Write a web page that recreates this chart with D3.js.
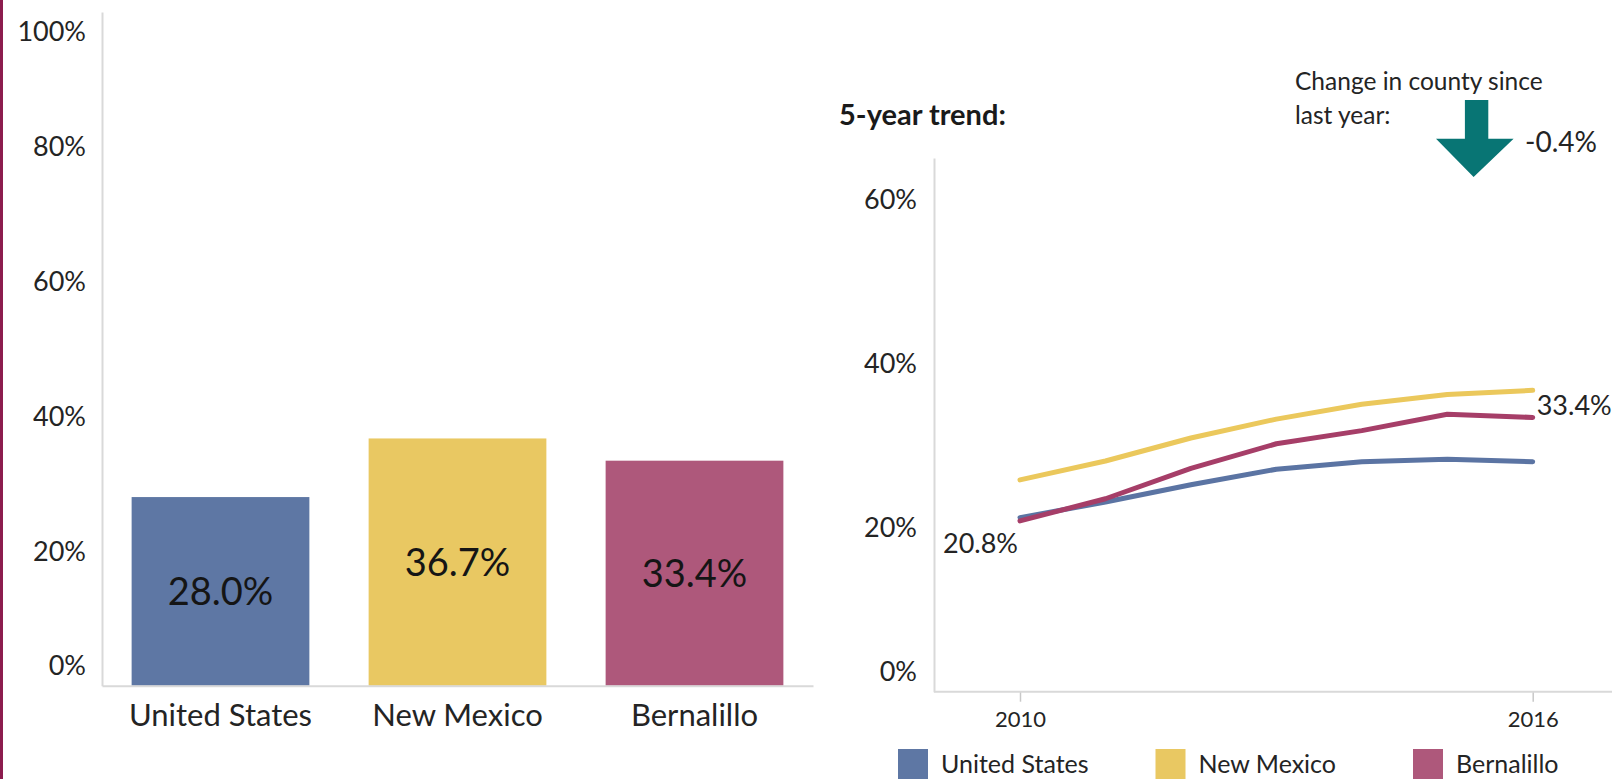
<!DOCTYPE html>
<html>
<head>
<meta charset="utf-8">
<script src="https://cdn.jsdelivr.net/npm/d3@7"></script>
<style>
  html, body { margin: 0; padding: 0; background: #fff; overflow: hidden; }
  svg { display: block; font-family: Lato, "Open Sans", sans-serif; }
</style>
</head>
<body>
<svg id="chart" width="1612" height="779"></svg>
<script>
// ---------- data ----------
const categories = ["United States", "New Mexico", "Bernalillo"];
const barValues = [28.0, 36.7, 33.4];
const colors = ["#5e77a4", "#e9c862", "#ae587b"];
const lineColors = ["#5b74a3", "#ebc85c", "#a63e68"];
const barTicks = [0, 20, 40, 60, 80, 100];

const years = [2010, 2011, 2012, 2013, 2014, 2015, 2016];
const usSeries = [21.2, 23.1, 25.2, 27.1, 28.0, 28.3, 28.0];
const nmSeries = [25.8, 28.1, 30.9, 33.2, 35.0, 36.2, 36.7];
const bernSeries = [20.8, 23.5, 27.2, 30.2, 31.8, 33.8, 33.4];
const lineTicks = [0, 20, 40, 60];
const yearTicks = [2010, 2016];
const changeValue = -0.4;
const trendTitle = "5-year trend:";
const changeTitle = ["Change in county since", "last year:"];

const series = [
  { name: categories[0], values: usSeries, color: lineColors[0] },
  { name: categories[1], values: nmSeries, color: lineColors[1] },
  { name: categories[2], values: bernSeries, color: lineColors[2] }
];

const svg = d3.select("#chart");
const axisColor = "#d9d9d9";
const textColor = "#242424";
const fmt = v => v.toFixed(1) + "%";

// left maroon border
svg.append("rect").attr("x", 0).attr("y", 0).attr("width", 3).attr("height", 779).attr("fill", "#8c1c4e");

// ---------- bar chart ----------
const bx = d3.scaleBand().domain(categories).range([102, 813]).paddingInner(0.25).paddingOuter(0.125);
const by = d3.scaleLinear().domain([0, 100]).range([685.7, 12]);

const gBar = svg.append("g");
gBar.selectAll("rect.bar").data(categories).join("rect")
  .attr("class", "bar")
  .attr("x", d => bx(d))
  .attr("width", bx.bandwidth())
  .attr("y", (d, i) => by(barValues[i]))
  .attr("height", (d, i) => by(0) - by(barValues[i]))
  .attr("fill", (d, i) => colors[i]);

gBar.selectAll("text.val").data(categories).join("text")
  .attr("class", "val")
  .attr("x", d => bx(d) + bx.bandwidth() / 2)
  .attr("y", (d, i) => (by(barValues[i]) + by(0)) / 2)
  .attr("dy", "0.36em")
  .attr("text-anchor", "middle")
  .attr("font-size", 38)
  .attr("fill", "#151515")
  .text((d, i) => fmt(barValues[i]));

// y axis (left)
const yAxisL = d3.axisLeft(by).tickValues(barTicks).tickSize(0).tickPadding(16).tickFormat(d => d + "%");
const gyl = svg.append("g").attr("transform", "translate(102,0)").call(yAxisL);
gyl.select(".domain").attr("stroke", axisColor).attr("stroke-width", 2);
gyl.selectAll(".tick text").attr("font-size", 27).attr("fill", textColor).attr("font-family", "Lato")
  .attr("dy", d => d === 100 ? "1.05em" : d === 0 ? "-0.4em" : "0.34em");

// baseline (left)
const xAxisL = d3.axisBottom(bx).tickSize(0).tickPadding(18);
const gxl = svg.append("g").attr("transform", "translate(0,685.7)").call(xAxisL);
gxl.select(".domain").attr("stroke", axisColor).attr("stroke-width", 2);
gxl.selectAll(".tick text").attr("font-size", 31).attr("fill", textColor).attr("font-family", "Lato");

// ---------- line chart ----------
const lx = d3.scaleLinear().domain([2010, 2016]).range([1020, 1532.7]);
const ly = d3.scaleLinear().domain([0, 65]).range([691.7, 158]);

svg.append("text").attr("x", 839).attr("y", 125).attr("font-size", 29).attr("font-weight", "bold")
  .attr("fill", "#1a1a1a").text(trendTitle);

const yAxisR = d3.axisLeft(ly).tickValues(lineTicks).tickSize(0).tickPadding(17).tickFormat(d => d + "%");
const gyr = svg.append("g").attr("transform", "translate(934,0)").call(yAxisR);
gyr.select(".domain").attr("stroke", axisColor).attr("stroke-width", 2);
gyr.selectAll(".tick text").attr("font-size", 27).attr("fill", textColor).attr("font-family", "Lato")
  .attr("dy", d => d === 0 ? "-0.4em" : "0.34em");

// x axis (right)
const xAxisR = d3.axisBottom(lx).tickValues(yearTicks).tickSize(10).tickPadding(10).tickFormat(d3.format("d"));
const gxr = svg.append("g").attr("transform", "translate(0,691.7)").call(xAxisR);
gxr.select(".domain").remove();
gxr.append("line").attr("x1", 934).attr("x2", 1612).attr("y1", 0).attr("y2", 0)
  .attr("stroke", axisColor).attr("stroke-width", 2);
gxr.selectAll(".tick line").attr("stroke", "#c8c8c8").attr("stroke-width", 1.5);
gxr.selectAll(".tick text").attr("font-size", 22).attr("fill", textColor).attr("font-family", "Lato");

const line = d3.line().x((d, i) => lx(years[i])).y(d => ly(d));
svg.append("g").selectAll("path.series").data(series).join("path")
  .attr("class", "series")
  .attr("d", d => line(d.values))
  .attr("fill", "none")
  .attr("stroke", d => d.color)
  .attr("stroke-width", 5)
  .attr("stroke-linejoin", "round")
  .attr("stroke-linecap", "round");

// end labels for county
const bern = bernSeries;
svg.append("text").attr("x", lx(years[0]) - 2).attr("y", ly(bern[0]) + 22).attr("dy", "0.36em")
  .attr("text-anchor", "end").attr("font-size", 27).attr("fill", textColor).text(fmt(bern[0]));
svg.append("text").attr("x", lx(years[years.length - 1]) + 4).attr("y", ly(bern[bern.length - 1]) - 12).attr("dy", "0.36em")
  .attr("text-anchor", "start").attr("font-size", 27).attr("fill", textColor).text(fmt(bern[bern.length - 1]));

// change annotation
svg.append("text").attr("x", 1295).attr("y", 90).attr("font-size", 24.5).attr("fill", textColor).text(changeTitle[0]);
svg.append("text").attr("x", 1295).attr("y", 124).attr("font-size", 24.5).attr("fill", textColor).text(changeTitle[1]);
const ax = 1476.6;
const arrowPts = [[ax - 11.7, 100], [ax + 11.7, 100], [ax + 11.7, 138.7], [ax + 37, 138.7], [ax - 3, 177], [ax - 40.6, 138.7], [ax - 11.7, 138.7]];
svg.append("path").attr("d", d3.line()(arrowPts) + "Z").attr("fill", "#087574");
svg.append("text").attr("x", 1525).attr("y", 141.7).attr("dy", "0.36em").attr("font-size", 28)
  .attr("fill", textColor).text((changeValue > 0 ? "+" : "") + changeValue.toFixed(1) + "%");

// legend
const lg = d3.scalePoint().domain(categories).range([898, 1413]);
const legend = svg.append("g").selectAll("g").data(categories).join("g")
  .attr("transform", d => `translate(${lg(d)},749)`);
legend.append("rect").attr("width", 30).attr("height", 32).attr("fill", (d, i) => colors[i]);
legend.append("text").attr("x", 43).attr("y", 24).attr("font-size", 25).attr("fill", textColor).text(d => d);
</script>
</body>
</html>
